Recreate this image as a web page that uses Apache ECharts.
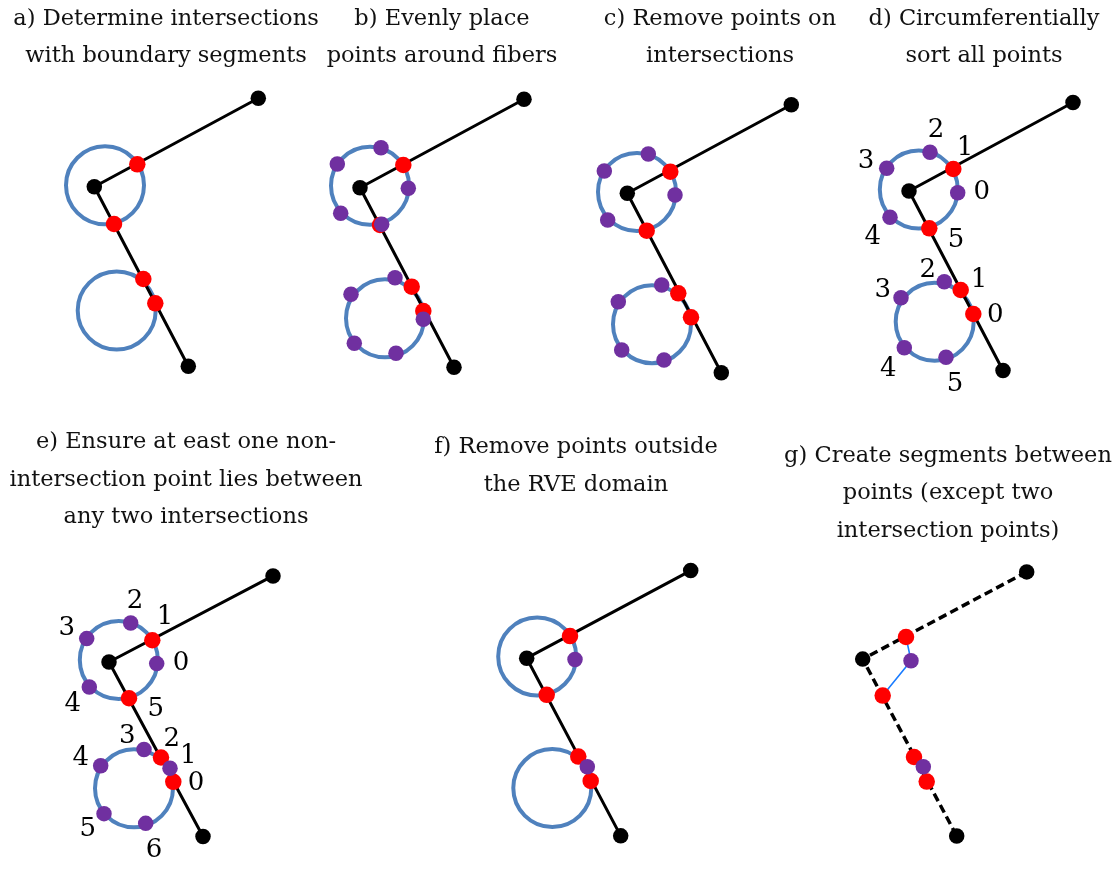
<!DOCTYPE html>
<html><head><meta charset="utf-8">
<script src="https://cdn.jsdelivr.net/npm/echarts@6/dist/echarts.min.js"></script>
<style>html,body{margin:0;padding:0;background:#fff}#c{width:1117px;height:871px}</style>
</head><body><div id="c"></div>
<script>
// ---------- DATA (local units, origin at the fiber kink, y up) ----------
const fiberPath = [[164, 88.5], [0, 0], [94, -179.5]];

const circlesA = [[10.7, 1.4, 39], [22.4, -123.8, 39]];
const circlesB = [[10, 1.9, 39], [25, -130.6, 39]];
const circlesC = [[9.7, 1.3, 39], [24.7, -130.9, 39]];
const circlesD = [[9.8, 1.5, 39], [25.7, -130.8, 39]];
const circlesE = [[9.8, 2, 39], [25, -130, 39]];
const circlesF = [[10.5, 1.8, 39], [25.6, -131.2, 39]];

const redA = [[43, 22.4], [19.7, -37.3], [49, -92.3], [61, -116.6]];
const redB = [[43.3, 22.7], [20, -37.3], [51.7, -99], [63.3, -123.3]];
const redC = [[43, 21.6], [19.4, -37.4], [51, -100], [63.7, -124]];
const redD = [[44.3, 22], [20.3, -37.3], [51.7, -99], [64.3, -123]];
const redE = [[43.3, 22.3], [20, -37.3], [52, -98.3], [64.3, -123.3]];
const redF = [[43.3, 22.3], [20, -37], [51.6, -99.4], [64, -124]];
const redG = [[43.3, 22.4], [20, -37], [51.3, -99.3], [64, -124.3]];

const purpleB = [[21, 40], [-22.7, 23.7], [48.3, -0.6], [-19.3, -25.6], [21.7, -36.6],
                 [35, -90], [-9, -106.6], [63.3, -131.6], [-5.7, -155.6], [36, -165.6]];
const purpleC = [[21, 39.3], [-23, 22.3], [47.7, -1.7], [-19.6, -26.7],
                 [34.4, -91.7], [-9, -108.4], [-5.6, -156.7], [36.7, -166.7]];
const purpleD = [[21, 38.7], [-22.3, 22.7], [48.7, -1.7], [-19, -26.3],
                 [35.3, -90.7], [-8, -106.7], [-4.7, -156.7], [37, -166.3]];
const purpleE = [[21.7, 40], [-22.3, 24], [47.7, -1.7], [-19.7, -25.7],
                 [35, -90], [-8.3, -106.7], [61, -109.3], [-5, -156], [36.7, -166]];
const purpleF = [[48.3, -1.4], [60.6, -109.7]];
const purpleG = [[48.3, -1.6], [60.6, -109.3]];

const labelsD = [["2", 27, 60.3], ["1", 56, 42.7], ["3", -43, 30], ["0", 72.7, -1.7],
                 ["4", -36.3, -46.3], ["5", 47, -49.7], ["2", 18.7, -79.7], ["1", 70, -89],
                 ["3", -26.3, -99], ["0", 86.3, -124], ["4", -20.7, -178.3], ["5", 46, -193]];
const labelsE = [["2", 26, 62.3], ["1", 56, 45.7], ["3", -42.3, 34.3], ["0", 72, -1.7],
                 ["4", -36.3, -43.3], ["5", 46.7, -48.3], ["3", 18.3, -76.7], ["2", 62.7, -80],
                 ["1", 79.3, -96.7], ["4", -28.3, -99.3], ["0", 87, -125], ["5", -21.3, -171.7],
                 ["6", 45, -193.3]];

const titleA = ["a) Determine intersections", "with boundary segments"];
const titleB = ["b) Evenly place", "points around fibers"];
const titleC = ["c) Remove points on", "intersections"];
const titleD = ["d) Circumferentially", "sort all points"];
const titleE = ["e) Ensure at east one non-", "intersection point lies between", "any two intersections"];
const titleF = ["f) Remove points outside", "the RVE domain"];
const titleG = ["g) Create segments between", "points (except two", "intersection points)"];

// ---------- LAYOUT ----------
const panels = [
  { circles: circlesA, red: redA, purple: [], labels: [], title: titleA, ox: 94.3, oy: 186.7, tx: 166, ty: 19 },
  { circles: circlesB, red: redB, purple: purpleB, labels: [], title: titleB, ox: 360, oy: 187.7, tx: 442, ty: 19 },
  { circles: circlesC, red: redC, purple: purpleC, labels: [], title: titleC, ox: 627.3, oy: 193.3, tx: 720, ty: 19 },
  { circles: circlesD, red: redD, purple: purpleD, labels: labelsD, title: titleD, ox: 909, oy: 191, tx: 984, ty: 19 },
  { circles: circlesE, red: redE, purple: purpleE, labels: labelsE, title: titleE, ox: 109, oy: 665, tx: 186, ty: 442.3 },
  { circles: circlesF, red: redF, purple: purpleF, labels: [], title: titleF, ox: 526.7, oy: 659.3, tx: 576, ty: 447.3 },
  { circles: [], red: redG, purple: purpleG, labels: [], title: titleG, ox: 862.7, oy: 660.7, tx: 948, ty: 455.7, dashed: true,
    segments: [[redG[0], purpleG[0], redG[1]], [redG[2], purpleG[1], redG[3]]] }
];

const XMIN = -60, XMAX = 200, YMIN = -215, YMAX = 110;
const LH = 37.5;
const serif = '"DejaVu Serif", "Liberation Serif", serif';

const grid = [], xAxis = [], yAxis = [], series = [], graphic = [];
panels.forEach((p, i) => {
  grid.push({ left: p.ox + XMIN, top: p.oy - YMAX, width: XMAX - XMIN, height: YMAX - YMIN, containLabel: false });
  xAxis.push({ gridIndex: i, type: 'value', min: XMIN, max: XMAX, show: false });
  yAxis.push({ gridIndex: i, type: 'value', min: YMIN, max: YMAX, show: false });
  if (p.circles.length) {
    series.push({
      type: 'custom', xAxisIndex: i, yAxisIndex: i, z: 1, silent: true,
      data: p.circles,
      renderItem: function (params, api) {
        const c = api.coord([api.value(0), api.value(1)]);
        const s = api.size([api.value(2), api.value(2)]);
        return { type: 'circle', shape: { cx: c[0], cy: c[1], r: s[0] },
                 style: { fill: 'none', stroke: '#4f81bd', lineWidth: 4 } };
      }
    });
  }
  series.push({
    type: 'line', xAxisIndex: i, yAxisIndex: i, z: 2, silent: true, symbol: 'none',
    data: fiberPath,
    lineStyle: { color: '#000', width: p.dashed ? 3.5 : 3, type: p.dashed ? [8.5, 4.5] : 'solid', cap: 'butt' }
  });
  (p.segments || []).forEach(seg => {
    series.push({
      type: 'line', xAxisIndex: i, yAxisIndex: i, z: 3, silent: true, symbol: 'none',
      data: seg, lineStyle: { color: '#1a7cff', width: 1.6 }
    });
  });
  series.push({
    type: 'scatter', xAxisIndex: i, yAxisIndex: i, z: 4, silent: true,
    data: fiberPath, symbolSize: 15.5, itemStyle: { color: '#000', opacity: 1 }
  });
  series.push({
    type: 'scatter', xAxisIndex: i, yAxisIndex: i, z: 5, silent: true,
    data: p.red, symbolSize: 16.5, itemStyle: { color: '#ff0000', opacity: 1 }
  });
  if (p.purple.length) {
    series.push({
      type: 'scatter', xAxisIndex: i, yAxisIndex: i, z: 6, silent: true,
      data: p.purple, symbolSize: 15.5, itemStyle: { color: '#7030a0', opacity: 1 }
    });
  }
  if (p.labels.length) {
    series.push({
      type: 'scatter', xAxisIndex: i, yAxisIndex: i, z: 7, silent: true,
      data: p.labels.map(l => ({ value: [l[1], l[2]], name: l[0] })),
      symbolSize: 1, itemStyle: { color: 'rgba(255,255,255,0)' },
      label: { show: true, position: 'inside', formatter: '{b}', color: '#000', opacity: 1,
               textBorderWidth: 0, fontFamily: serif, fontSize: 26 }
    });
  }
  p.title.forEach((t, k) => {
    graphic.push({ type: 'text', x: p.tx, y: p.ty + k * LH, silent: true,
      style: { text: t, fill: '#111', font: '22.5px ' + serif, align: 'center', verticalAlign: 'middle' } });
  });
});

const chart = echarts.init(document.getElementById('c'), null, { renderer: 'canvas' });
chart.setOption({ animation: false, backgroundColor: '#fff', grid, xAxis, yAxis, series, graphic });
</script></body></html>
